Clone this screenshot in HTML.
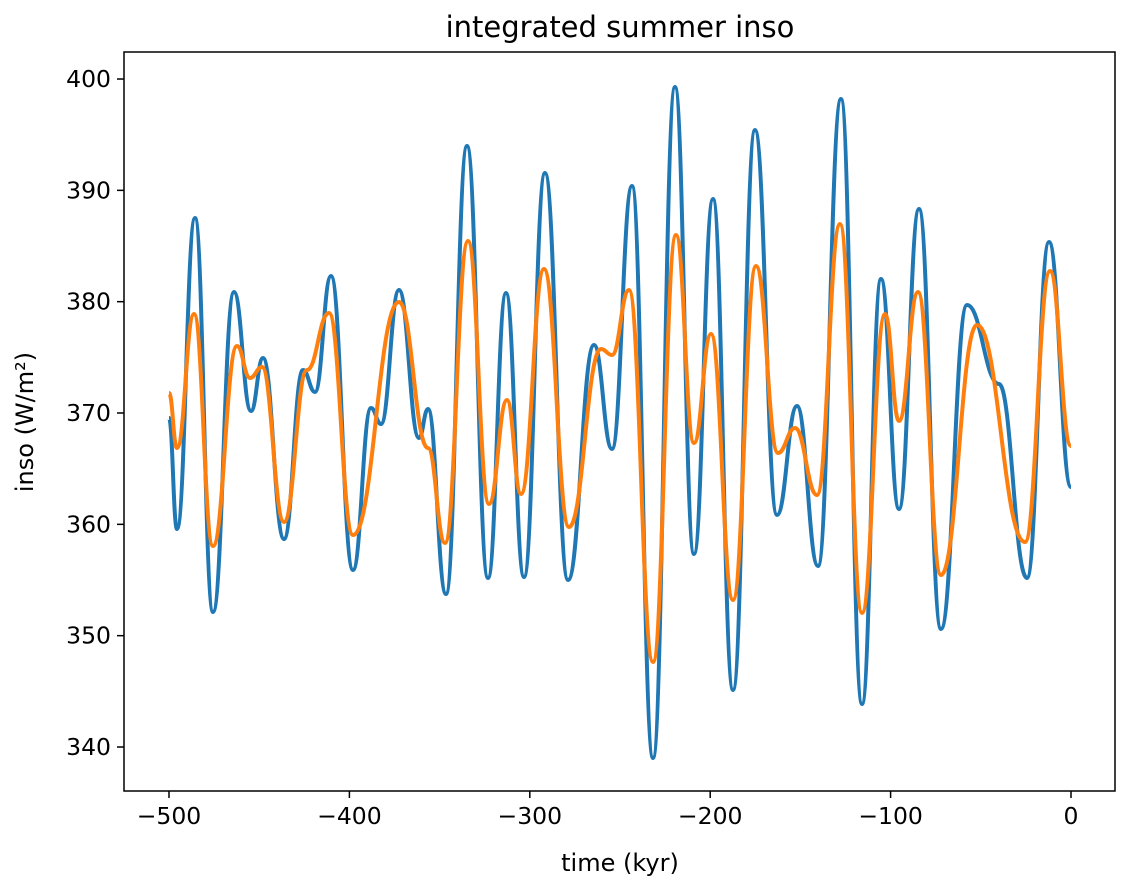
<!DOCTYPE html>
<html><head><meta charset="utf-8"><style>
body{margin:0;background:#fff}
svg text{font-family:"DejaVu Sans","Liberation Sans",sans-serif;fill:#000}
</style></head><body>
<svg id="s" width="1129" height="890" xmlns="http://www.w3.org/2000/svg">
<rect width="1129" height="890" fill="#fff"/>
<text x="620" y="37" font-size="29" text-anchor="middle">integrated summer inso</text>
<g id="ticks" stroke="#000" stroke-width="1.5"></g>
<g id="lab" font-size="23.5"></g>
<text x="620" y="871" font-size="24" text-anchor="middle">time (kyr)</text>
<text transform="translate(33,422) rotate(-90)" font-size="24" text-anchor="middle">inso (W/m²)</text>
<path id="b" fill="none" stroke="#1f77b4" stroke-width="4" stroke-linejoin="round"/>
<path id="o" fill="none" stroke="#ff7f0e" stroke-width="4" stroke-linejoin="round"/>
<rect x="124" y="52" width="991" height="739" fill="none" stroke="#000" stroke-width="1.5"/>
</svg>
<script>
var B=[[169,418],[177,529],[195,218],[213,612],[234,292],[251,411],[263,358],[284,539],[303,370],[315,392],[331,276],[353,570],[371,408],[381,424],[399,290],[419,438],[428,409],[446,594],[467,146],[488,578],[506,293],[524,577],[545,173],[568,580],[594,345],[612,449],[632,186],[653,758],[675,87],[694,554],[713,199],[733,690],[755,130],[777,515],[797,406],[818,566],[841,99],[862,704],[881,279],[899,509],[919,209],[941,629],[967,305],[999,384],[1027,578],[1049,242],[1071,487]];
var O=[[169,393],[177,448],[194,314],[213,546],[237,346],[250,378],[262,367],[284,522],[307,370],[329,313],[353,535],[399,302],[428,448],[445,543],[468,241],[489,504],[507,400],[521,494],[544,269],[569,527],[601,349],[612,355],[629,290],[653,662],[676,235],[694,443],[711,334],[733,600],[756,266],[778,453],[795,428],[817,495],[840,224],[862,613],[885,314],[899,421],[918,292],[941,575],[977,325],[1025,542],[1050,271],[1071,446]];
function P(a){var d="M"+a[0][0]+","+a[0][1];for(var i=1;i<a.length;i++){var p=a[i-1],q=a[i],dx=(q[0]-p[0])*0.45;d+=" C"+(p[0]+dx)+","+p[1]+" "+(q[0]-dx)+","+q[1]+" "+q[0]+","+q[1];}return d;}
document.getElementById('b').setAttribute('d',P(B));
document.getElementById('o').setAttribute('d',P(O));
var t=document.getElementById('ticks'),l=document.getElementById('lab'),ns="http://www.w3.org/2000/svg";
function ln(x1,y1,x2,y2){var e=document.createElementNS(ns,'line');e.setAttribute('x1',x1);e.setAttribute('y1',y1);e.setAttribute('x2',x2);e.setAttribute('y2',y2);t.appendChild(e);}
function tx(x,y,s,a){var e=document.createElementNS(ns,'text');e.setAttribute('x',x);e.setAttribute('y',y);e.setAttribute('text-anchor',a);e.textContent=s;l.appendChild(e);}
for(var v=-500;v<=0;v+=100){var x=169+(v+500)*1.804;ln(x,791,x,798);tx(x,824,v==0?"0":"\u2212"+(-v),"middle");}
for(var v=340;v<=400;v+=10){var y=747-(v-340)*11.133;ln(117,y,124,y);tx(111,y+8,""+v,"end");}
</script>
</body></html>
